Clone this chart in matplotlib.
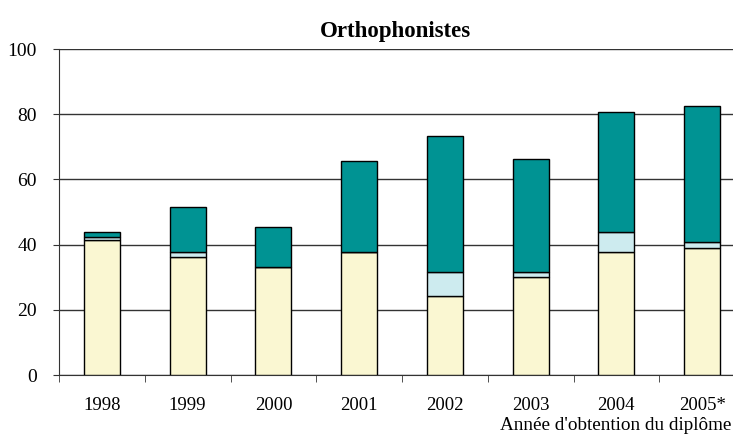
import matplotlib
matplotlib.use("Agg")
import matplotlib.pyplot as plt
import numpy as np

years = ["1998", "1999", "2000", "2001", "2002", "2003", "2004", "2005*"]
beige = [41.5, 36.1, 33.1, 37.6, 24.1, 30.1, 37.7, 39.1]
light = [0.8, 1.5, 0.0, 0.0, 7.6, 1.6, 6.1, 1.6]
teal = [1.5, 13.9, 12.2, 28.1, 41.5, 34.7, 37.0, 41.7]
yticks = [0, 20, 40, 60, 80, 100]

plt.rcParams['font.family'] = ['Liberation Serif', 'DejaVu Serif']

fig = plt.figure(figsize=(7.33, 4.38), dpi=100)
ax = fig.add_axes([59/733, 1 - 375/438, (745-59)/733, (375-49)/438])

x = np.arange(len(years))
w = 0.42
b1 = np.array(beige)
b2 = b1 + np.array(light)
ax.bar(x, beige, w, color='#FAF7D2', edgecolor='black', linewidth=1, zorder=3)
ax.bar(x, light, w, bottom=b1, color='#CDEBEF', edgecolor='black', linewidth=1, zorder=3)
ax.bar(x, teal, w, bottom=b2, color='#009393', edgecolor='black', linewidth=1, zorder=3)

ax.set_xlim(-0.5, len(years) - 0.5)
ax.set_ylim(0, 100)
ax.set_yticks(yticks)
ax.set_yticklabels([str(v) for v in yticks], fontsize=14)
ax.grid(axis='y', color='#333333', linewidth=1, zorder=1)
ax.set_xticks(x)
ax.set_xticklabels(years, fontsize=13.5)
ax.tick_params(axis='x', length=0, pad=16)
ax.set_xticks(np.arange(-0.5, len(years), 1), minor=True)
ax.tick_params(axis='x', which='minor', length=5, color='#333333', direction='out')
ax.tick_params(axis='y', length=4, color='#333333', pad=12)
for s in ['top', 'right']:
    ax.spines[s].set_visible(False)
ax.spines['left'].set_color('#333333')
ax.spines['bottom'].set_color('#333333')

fig.text(395/733, 1 - 31/438, "Orthophonistes", ha='center', va='center',
         fontsize=16.5, fontweight='bold')
fig.text(731/733, 1 - 426/438, "Année d'obtention du diplôme", ha='right', va='center',
         fontsize=13.8)

fig.savefig("out.png", dpi=100)
